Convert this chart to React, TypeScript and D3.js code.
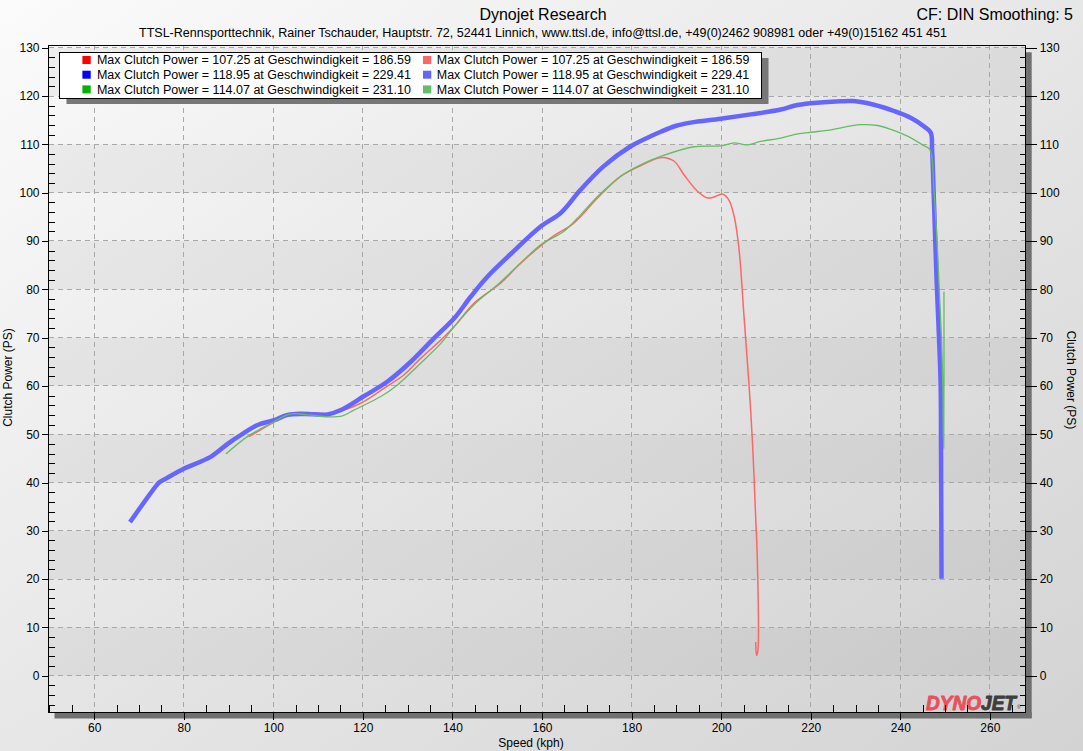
import React, { useEffect, useRef } from 'react'
import * as d3 from 'd3'

// run 1 (red)
const speedRun1 = [94.6, 99.4, 103.9, 107.6, 110.6, 112.8, 115.4, 119.5, 124.7, 129.2, 132.9, 137.4, 140.4, 144.8, 150.8, 155.0, 161.9, 167.1, 172.4, 177.6, 182.1, 186.59, 189.5, 191.7, 194.7, 197.0, 198.4, 200.3, 201.7, 202.9, 204.0, 205.1, 206.2, 207.0, 207.7, 208.1, 208.2, 207.9, 207.7]
const powerRun1 = [49.5, 52.1, 54.3, 54.5, 54.3, 54.3, 54.9, 56.4, 59.5, 62.3, 65.7, 69.5, 72.3, 77.1, 81.3, 85.2, 90.6, 93.7, 98.9, 103.4, 105.6, 107.25, 106.5, 103.7, 100.3, 98.9, 99.1, 99.7, 98.5, 95.1, 88.2, 74.4, 60.5, 48.1, 32.9, 23.2, 5.2, 4.2, 7.0]

// run 2 (blue)
const speedRun2 = [68.0, 73.4, 74.5, 76.0, 80.1, 86.0, 89.8, 92.7, 96.5, 100.2, 103.2, 106.9, 112.1, 115.1, 120.3, 125.5, 130.7, 135.9, 140.4, 144.1, 147.8, 153.0, 159.7, 164.2, 168.6, 173.8, 179.8, 183.2, 186.5, 189.8, 193.2, 199.9, 206.6, 213.3, 216.3, 220.0, 226.7, 229.41, 234.1, 238.6, 242.3, 245.3, 246.8, 247.1, 247.5, 248.1, 248.6, 249.0, 249.1, 249.2]
const powerRun2 = [31.8, 38.8, 40.0, 40.8, 42.9, 45.3, 48.0, 49.8, 51.9, 52.9, 54.0, 54.2, 54.1, 55.0, 57.9, 60.9, 65.0, 69.9, 74.0, 78.5, 82.6, 87.3, 93.0, 95.8, 100.6, 105.5, 109.6, 111.2, 112.6, 113.8, 114.5, 115.3, 116.2, 117.2, 118.0, 118.5, 118.9, 118.95, 118.2, 116.9, 115.5, 113.7, 112.4, 108.9, 98.5, 82.0, 70.9, 60.5, 45.3, 20.1]

// run 3 (green)
const speedRun3 = [89.4, 94.2, 99.4, 103.9, 107.6, 112.1, 115.4, 118.0, 124.0, 127.7, 132.9, 137.4, 140.4, 144.8, 150.0, 155.2, 159.7, 164.9, 168.6, 172.4, 177.6, 182.1, 186.5, 193.9, 199.9, 202.9, 205.8, 208.8, 213.3, 216.3, 220.0, 223.7, 231.1, 234.9, 237.9, 241.6, 245.3, 246.6, 247.5, 248.3, 248.8, 249.2, 249.5, 249.6, 249.7, 249.75]
const powerRun3 = [45.9, 49.5, 52.2, 54.2, 54.0, 53.6, 53.8, 55.0, 57.8, 60.2, 64.7, 68.8, 72.3, 76.8, 80.9, 85.4, 89.2, 92.0, 95.4, 99.2, 103.4, 105.8, 107.5, 109.5, 109.7, 110.3, 109.9, 110.6, 111.3, 112.0, 112.5, 112.9, 114.07, 113.9, 113.1, 111.7, 109.7, 108.9, 100.6, 88.2, 77.8, 69.5, 59.8, 50.2, 47.1, 79.5]

const legendLabels = [
  'Max Clutch Power = 107.25 at Geschwindigkeit = 186.59',
  'Max Clutch Power = 118.95 at Geschwindigkeit = 229.41',
  'Max Clutch Power = 114.07 at Geschwindigkeit = 231.10'
]
const legendDark = ['#ff0000', '#0000ff', '#00b400']
const legendLight = ['#ff6666', '#6666ff', '#66bb66']

const xMajor = d3.range(60, 261, 20)
const xMinor = d3.range(50, 268, 5).filter(v => v % 20 !== 0)
const yMajor = d3.range(0, 131, 10)
const yMinor = d3.range(-6, 131, 2).filter(v => v % 10 !== 0)
const yBands = d3.range(0, 130, 20)

const FONT = "Tahoma, 'Liberation Sans', Arial, sans-serif"
const W = 1083
const H = 751
const L = 48.5
const R = 1025.7
const T = 45.3
const B = 712

const x = d3.scaleLinear().domain([49.8, 268]).range([L, R])
const y = d3.scaleLinear().domain([-7.5, 130.5]).range([B, T])

const zip = (xs: number[], ys: number[]) => xs.map((s, i) => [s, ys[i]] as [number, number])
const line = d3
  .line<[number, number]>()
  .x(d => x(d[0]))
  .y(d => y(d[1]))
  .curve(d3.curveCatmullRom.alpha(0.5))

const App = () => {
  const axesRef = useRef<SVGGElement>(null)

  useEffect(() => {
    const g = d3.select(axesRef.current)
    g.selectAll('*').remove()

    const style = (sel: any) => {
      sel.select('.domain').remove()
      sel.selectAll('line').attr('stroke', '#000').attr('shape-rendering', 'crispEdges')
      sel.selectAll('text').attr('fill', '#000').style('font-family', FONT).style('font-size', '12px')
    }

    // left
    g.append('g').attr('transform', `translate(${L},0)`)
      .call(d3.axisLeft(y).tickValues(yMajor).tickSize(7).tickPadding(2)).call(style)
    g.append('g').attr('transform', `translate(${L},0)`)
      .call(d3.axisRight(y).tickValues(yMinor).tickSize(6).tickFormat(() => '')).call(style)
    // right
    g.append('g').attr('transform', `translate(${R},0)`)
      .call(d3.axisRight(y).tickValues(yMajor).tickSize(11).tickPadding(3)).call(style)
    g.append('g').attr('transform', `translate(${R},0)`)
      .call(d3.axisLeft(y).tickValues(yMinor).tickSize(6).tickFormat(() => '')).call(style)
    // bottom
    g.append('g').attr('transform', `translate(0,${B})`)
      .call(d3.axisBottom(x).tickValues(xMajor).tickSize(8).tickPadding(3)).call(style)
    g.append('g').attr('transform', `translate(0,${B})`)
      .call(d3.axisTop(x).tickValues(xMinor).tickSize(7).tickFormat(() => '')).call(style)
  }, [])

  const runs = [
    { data: zip(speedRun1, powerRun1), color: legendLight[0], width: 1.5 },
    { data: zip(speedRun2, powerRun2), color: legendLight[1], width: 4.5 },
    { data: zip(speedRun3, powerRun3), color: legendLight[2], width: 1.3 }
  ]

  return (
    <svg width={W} height={H} style={{ position: 'absolute', left: 0, top: 0, fontFamily: FONT }}>
      <defs>
        <linearGradient id='pageBg' x1='0' y1='0' x2='1' y2='1'>
          <stop offset='0%' stopColor='#fbfbfb' />
          <stop offset='100%' stopColor='#d3d3d3' />
        </linearGradient>
        <linearGradient id='plotBg' x1='0' y1='0' x2='1' y2='1'>
          <stop offset='0%' stopColor='#f8f8f8' />
          <stop offset='100%' stopColor='#d2d2d2' />
        </linearGradient>
        <clipPath id='plotClip'>
          <rect x={L} y={T} width={R - L} height={B - T} />
        </clipPath>
      </defs>
      <rect width={W} height={H} fill='url(#pageBg)' />

      {/* titles */}
      <text x={543} y={20} textAnchor='middle' fontSize={16} fill='#000'>Dynojet Research</text>
      <text x={1073} y={20} textAnchor='end' fontSize={16} fill='#000'>CF: DIN Smoothing: 5</text>
      <text x={543} y={37} textAnchor='middle' fontSize={12} fill='#000' textLength={808} lengthAdjust='spacingAndGlyphs'>
        TTSL-Rennsporttechnik, Rainer Tschauder, Hauptstr. 72, 52441 Linnich, www.ttsl.de, info@ttsl.de, +49(0)2462 908981 oder +49(0)15162 451 451
      </text>

      {/* shadows */}
      <rect x={R} y={T + 7} width={6} height={B - T - 1} fill='#707070' />
      <rect x={L + 6} y={B} width={R - L} height={6.5} fill='#707070' />

      {/* plot area */}
      <rect x={L} y={T} width={R - L} height={B - T} fill='url(#plotBg)' />
      {yBands.map(v => (
        <rect key={v} x={L} y={y(v + 10)} width={R - L} height={y(v) - y(v + 10)} fill='#000' fillOpacity={0.045} />
      ))}
      <g stroke='#a8a8a8' strokeDasharray='5,4' shapeRendering='crispEdges'>
        {yMajor.map(v => <line key={'h' + v} x1={L} x2={R} y1={y(v)} y2={y(v)} />)}
        {xMajor.map(v => <line key={'v' + v} x1={x(v)} x2={x(v)} y1={T} y2={B} />)}
      </g>

      {/* logo */}
      <text x={926} y={709.5} fontSize={19.5} fontWeight={900} fontStyle='italic' textLength={90} lengthAdjust='spacingAndGlyphs'
        fontFamily="'Liberation Sans', Arial, sans-serif" strokeWidth={0.9} strokeLinejoin='round'>
        <tspan fill='#e9505c' stroke='#e9505c'>DYNO</tspan><tspan fill='#3e3e3e' stroke='#3e3e3e'>JET</tspan>
      </text>
      <text x={1017} y={709} fontSize={5} fill='#3e3e3e'>®</text>

      {/* curves */}
      <g clipPath='url(#plotClip)' fill='none' strokeLinejoin='round'>
        {runs.map((r, i) => (
          <path key={i} d={line(r.data) || ''} stroke={r.color} strokeWidth={r.width} />
        ))}
      </g>

      {/* frame */}
      <rect x={L} y={T} width={R - L} height={B - T} fill='none' stroke='#000' strokeWidth={1} shapeRendering='crispEdges' />
      <g ref={axesRef} />

      {/* axis titles */}
      <text transform='translate(8,377.5) rotate(-90)' textAnchor='middle' dominantBaseline='central' fontSize={12}>Clutch Power (PS)</text>
      <text transform='translate(1070.5,380) rotate(90)' textAnchor='middle' dominantBaseline='central' fontSize={12}>Clutch Power (PS)</text>
      <text x={531} y={747} textAnchor='middle' fontSize={12}>Speed (kph)</text>

      {/* legend */}
      <rect x={66.5} y={58} width={702} height={46} fill='#777' />
      <rect x={59.5} y={52} width={702} height={46} fill='#fff' stroke='#000' strokeWidth={1} shapeRendering='crispEdges' />
      {legendLabels.map((lab, i) => (
        <g key={lab} transform={`translate(0,${60 + i * 14.7})`}>
          <rect x={82.4} y={-4} width={8.3} height={8} fill={legendDark[i]} />
          <text x={96.9} y={4.3} fontSize={12} textLength={314} lengthAdjust='spacingAndGlyphs'>{lab}</text>
          <rect x={423} y={-4} width={8.3} height={8} fill={legendLight[i]} />
          <text x={436.8} y={4.3} fontSize={12} textLength={312.5} lengthAdjust='spacingAndGlyphs'>{lab}</text>
        </g>
      ))}
    </svg>
  )
}

export default App
